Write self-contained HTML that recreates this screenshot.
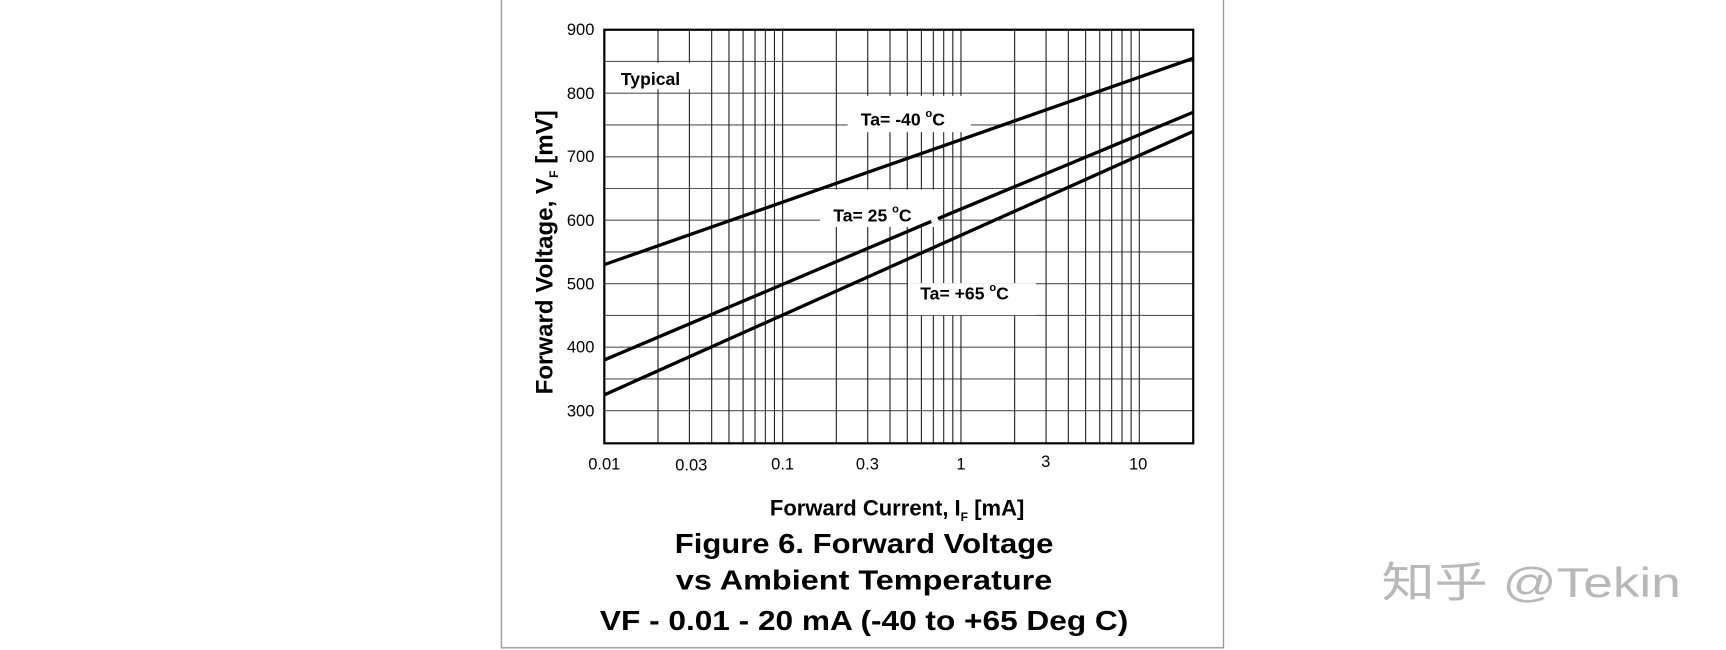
<!DOCTYPE html>
<html><head><meta charset="utf-8"><style>
html,body{margin:0;padding:0;background:#fff;}
svg{display:block;}
text{font-family:"Liberation Sans",Arial,sans-serif;}
</style></head><body>
<svg width="1726" height="650" viewBox="0 0 1568 590" preserveAspectRatio="none" xmlns="http://www.w3.org/2000/svg">
<rect x="0" y="0" width="1568" height="590" fill="#fff"/>
<rect x="455.5" y="-1" width="656" height="589" fill="none" stroke="#999" stroke-width="1.2"/>
<g id="hgrid" stroke="#555" stroke-width="1">
<line x1="549" x2="1084" y1="55.8" y2="55.8"/><line x1="549" x2="1084" y1="84.6" y2="84.6"/>
<line x1="549" x2="1084" y1="113.4" y2="113.4"/><line x1="549" x2="1084" y1="142.3" y2="142.3"/>
<line x1="549" x2="1084" y1="171.1" y2="171.1"/><line x1="549" x2="1084" y1="199.9" y2="199.9"/>
<line x1="549" x2="1084" y1="228.7" y2="228.7"/><line x1="549" x2="1084" y1="257.5" y2="257.5"/>
<line x1="549" x2="1084" y1="286.3" y2="286.3"/><line x1="549" x2="1084" y1="315.1" y2="315.1"/>
<line x1="549" x2="1084" y1="344.0" y2="344.0"/><line x1="549" x2="1084" y1="372.8" y2="372.8"/>
</g>
<g stroke="#222" stroke-width="1" id="vgrid"></g>
<script>
(function(){var g=document.getElementById('vgrid');var ns='http://www.w3.org/2000/svg';
for(var d=0;d<4;d++){for(var k=1;k<10;k++){var I=Math.pow(10,d)*0.01*k;if(I>20)break;var x=549+Math.log10(I/0.01)*162;if(x<550||x>1083)continue;
var l=document.createElementNS(ns,'line');l.setAttribute('x1',x);l.setAttribute('x2',x);l.setAttribute('y1',27);l.setAttribute('y2',402.4);g.appendChild(l);}}
})();
</script>
<rect x="770" y="87" width="112" height="33" fill="#fff"/>
<rect x="745" y="172" width="108" height="34" fill="#fff"/>
<rect x="825" y="257" width="116" height="29" fill="#fff"/>
<rect x="556" y="57" width="80" height="24" fill="#fff"/>
<g stroke="#000" stroke-width="3" fill="none">
<line x1="549" y1="240.2" x2="1084" y2="52.9"/>
<line x1="549" y1="326.7" x2="846" y2="201"/>
<line x1="852" y1="198.5" x2="1084" y2="101.9"/>
<line x1="549" y1="358.4" x2="1084" y2="119.2"/>
</g>
<rect x="549" y="27" width="535" height="375.4" fill="none" stroke="#000" stroke-width="2"/>
<g font-size="15" text-anchor="end" fill="#000">
<text x="540" y="32">900</text><text x="540" y="90">800</text><text x="540" y="147">700</text>
<text x="540" y="205">600</text><text x="540" y="263">500</text><text x="540" y="320">400</text><text x="540" y="378">300</text>
</g>
<g font-size="15" text-anchor="middle" fill="#000">
<text x="549" y="426">0.01</text><text x="628" y="427">0.03</text><text x="711" y="426">0.1</text>
<text x="788" y="426">0.3</text><text x="873" y="426">1</text><text x="950" y="424">3</text><text x="1034" y="426">10</text>
</g>
<text x="564" y="77" font-size="16" font-weight="bold">Typical</text>
<text x="782" y="114" font-size="16" font-weight="bold">Ta= -40 <tspan font-size="10" dy="-8">o</tspan><tspan dy="8">C</tspan></text>
<text x="757" y="201" font-size="16" font-weight="bold">Ta= 25 <tspan font-size="10" dy="-8">o</tspan><tspan dy="8">C</tspan></text>
<text x="836" y="272" font-size="16" font-weight="bold">Ta= +65 <tspan font-size="10" dy="-8">o</tspan><tspan dy="8">C</tspan></text>
<text transform="translate(502,229) rotate(-90)" font-size="21.5" font-weight="bold" text-anchor="middle" textLength="258" lengthAdjust="spacingAndGlyphs">Forward Voltage, V<tspan font-size="11" dy="5">F</tspan><tspan dy="-5"> [mV]</tspan></text>
<text x="815" y="468" font-size="20" font-weight="bold" text-anchor="middle">Forward Current, I<tspan font-size="11" dy="5">F</tspan><tspan dy="-5"> [mA]</tspan></text>
<g font-size="25" font-weight="bold" text-anchor="middle">
<text x="785" y="502" textLength="344" lengthAdjust="spacingAndGlyphs">Figure 6. Forward Voltage</text>
<text x="785" y="535" textLength="342" lengthAdjust="spacingAndGlyphs">vs Ambient Temperature</text>
<text x="785" y="572" textLength="480" lengthAdjust="spacingAndGlyphs">VF - 0.01 - 20 mA (-40 to +65 Deg C)</text>
</g>
<text x="1255" y="542" font-size="38" fill="#b8b8b8" font-family="'Liberation Sans','Noto Sans CJK SC',sans-serif" textLength="272" lengthAdjust="spacingAndGlyphs">知乎 @Tekin</text>
</svg>
</body></html>
